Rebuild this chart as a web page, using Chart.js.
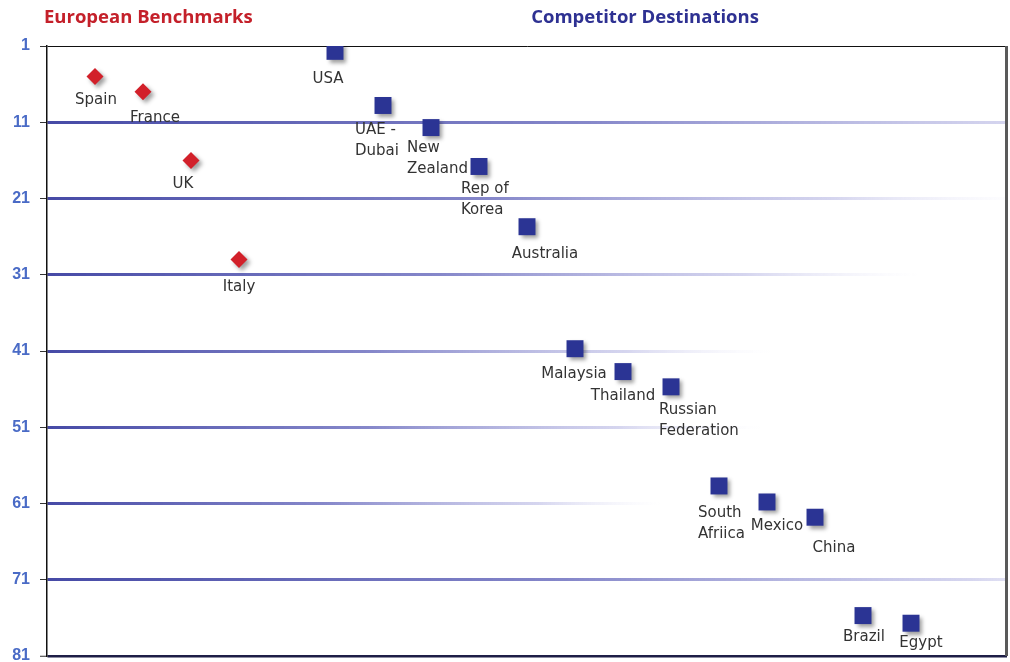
<!DOCTYPE html>
<html>
<head>
<meta charset="utf-8">
<script src="https://cdn.jsdelivr.net/npm/chart.js@4.4.1/dist/chart.umd.min.js"></script>
<style>
  html, body { margin: 0; padding: 0; background: #ffffff; }
  #wrap { width: 1010px; height: 662px; position: relative; }
</style>
</head>
<body>
<div id="wrap"><canvas id="c" width="1010" height="662"></canvas></div>
<script>
// ---- data ----
const groupTitles = ['European Benchmarks', 'Competitor Destinations'];
const euroNames = ['Spain', 'France', 'UK', 'Italy'];
const euroX = [1, 2, 3, 4];
const euroRank = [5, 7, 16, 29];
const compNames = ['USA', 'UAE -\nDubai', 'New\nZealand', 'Rep of\nKorea', 'Australia', 'Malaysia', 'Thailand',
                   'Russian\nFederation', 'South\nAfriica', 'Mexico', 'China', 'Brazil', 'Egypt'];
const compX = [6, 7, 8, 9, 10, 11, 12, 13, 14, 15, 16, 17, 18];
const compRank = [1.7, 8.8, 11.7, 16.8, 24.7, 40.7, 43.7, 45.7, 58.7, 60.8, 62.8, 75.7, 76.7];
const yTicks = [1, 11, 21, 31, 41, 51, 61, 71, 81];

// ---- styling (label nudges, grid fades) ----
const euroNudge = [[1, 24], [12, 26], [-8, 24], [0, 28]];
const compNudge = [[-7, 28], [-28, 25], [-24, 21], [-18, 23], [18, 27], [-1, 25], [0, 25],
                   [-12, 23], [-21, 27], [10, 24], [19, 31], [1, 22], [10, 20]];
const gridFadeEnd = {11: 1250, 21: 1030, 31: 920, 41: 770, 51: 760, 61: 660, 71: 1200};

const gradCache = {};
function gridColor(ctx) {
  const v = ctx.tick ? ctx.tick.value : null;
  if (v === 1) return '#111111';
  if (v === 81) return '#1e1e46';
  const ca = ctx.chart.chartArea;
  if (!ca) return '#4a4fa6';
  const key = v + '_' + ca.left + '_' + ca.right;
  if (gradCache[key]) return gradCache[key];
  const end = gridFadeEnd[v] || 1000;
  const g = ctx.chart.ctx.createLinearGradient(ca.left, 0, end, 0);
  g.addColorStop(0, 'rgba(70,74,166,1)');
  g.addColorStop(0.45, 'rgba(120,122,196,0.9)');
  g.addColorStop(0.8, 'rgba(185,185,228,0.6)');
  g.addColorStop(1, 'rgba(230,230,248,0)');
  gradCache[key] = g;
  return g;
}
function gridWidth(ctx) {
  const v = ctx.tick ? ctx.tick.value : null;
  if (v === 1) return 1;
  if (v === 81) return 2.5;
  return 3;
}

const shadowPlugin = {
  id: 'markerShadow',
  beforeDatasetsDraw(chart) {
    const c = chart.ctx;
    c.save();
    c.shadowColor = 'rgba(0,0,0,0.38)';
    c.shadowBlur = 4;
    c.shadowOffsetX = 3;
    c.shadowOffsetY = 3;
  },
  afterDatasetsDraw(chart) {
    chart.ctx.restore();
  }
};

const labelPlugin = {
  id: 'pointLabels',
  afterDatasetsDraw(chart) {
    const c = chart.ctx;
    c.save();
    c.fillStyle = '#333333';
    c.font = '15px "DejaVu Sans", sans-serif';
    c.textBaseline = 'middle';
    const sets = [[euroNames, euroNudge], [compNames, compNudge]];
    sets.forEach((s, di) => {
      const meta = chart.getDatasetMeta(di);
      meta.data.forEach((pt, j) => {
        const lines = s[0][j].split('\n');
        const [dx, dy] = s[1][j];
        c.textAlign = lines.length > 1 ? 'left' : 'center';
        lines.forEach((ln, k) => c.fillText(ln, pt.x + dx, pt.y + dy + k * 21));
      });
    });
    c.restore();
  }
};

const framePlugin = {
  id: 'frameTitles',
  afterDraw(chart) {
    const c = chart.ctx;
    const ca = chart.chartArea;
    c.save();
    c.strokeStyle = '#5a5a5a';
    c.lineWidth = 3;
    c.beginPath();
    c.moveTo(ca.right - 0.5, ca.top);
    c.lineTo(ca.right - 0.5, ca.bottom);
    c.stroke();
    c.textBaseline = 'middle';
    c.font = 'bold 18.5px "Open Sans", sans-serif';
    c.fillStyle = '#c4202a';
    c.textAlign = 'left';
    c.fillText(groupTitles[0], 44, 18);
    c.fillStyle = '#2e3192';
    c.textAlign = 'center';
    c.fillText(groupTitles[1], 645, 18);
    c.restore();
  }
};

new Chart(document.getElementById('c'), {
  type: 'scatter',
  data: {
    datasets: [
      {
        label: groupTitles[0],
        data: euroX.map((x, i) => ({x: x, y: euroRank[i]})),
        pointStyle: 'rectRot',
        pointRadius: 8.5,
        pointHoverRadius: 8.5,
        backgroundColor: '#d2202a',
        borderWidth: 0
      },
      {
        label: groupTitles[1],
        data: compX.map((x, i) => ({x: x, y: compRank[i]})),
        pointStyle: 'rect',
        pointRadius: 12,
        pointHoverRadius: 12,
        backgroundColor: '#2b3494',
        borderWidth: 0
      }
    ]
  },
  options: {
    responsive: false,
    animation: false,
    events: [],
    layout: { autoPadding: false, padding: { top: 46, bottom: 6, right: 3, left: 0 } },
    plugins: { legend: { display: false }, tooltip: { enabled: false }, title: { display: false } },
    scales: {
      x: { type: 'linear', min: 0, max: 20, display: false },
      y: {
        type: 'linear',
        min: 1,
        max: 81,
        reverse: true,
        afterBuildTicks(scale) { scale.ticks = yTicks.map(v => ({value: v})); },
        afterFit(scale) {
          scale.width = 47;
          scale.paddingTop = 0;
          scale.paddingBottom = 0;
        },
        border: { display: true, color: '#111111', width: 1.5 },
        grid: {
          color: gridColor,
          lineWidth: gridWidth,
          drawTicks: true,
          tickLength: 7,
          tickColor: '#333333',
          tickWidth: 1
        },
        ticks: {
          padding: 10,
          color: '#4a6bc6',
          font: { family: '"Liberation Sans", Arial, sans-serif', weight: 'bold', size: 16 },
          callback: v => String(v)
        }
      }
    }
  },
  plugins: [shadowPlugin, labelPlugin, framePlugin]
});
</script>
</body>
</html>
